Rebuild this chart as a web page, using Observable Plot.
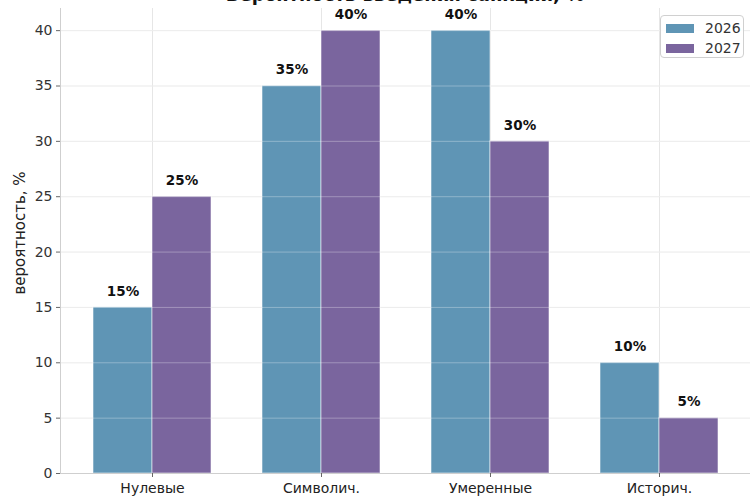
<!DOCTYPE html>
<html>
<head>
<meta charset="utf-8">
<script src="https://cdn.jsdelivr.net/npm/d3@7"></script>
<script src="https://cdn.jsdelivr.net/npm/@observablehq/plot@0.6"></script>
<style>
  html, body { margin: 0; padding: 0; background: white; overflow: hidden; }
  #wrap { position: relative; width: 750px; height: 500px; font-family: "DejaVu Sans", sans-serif; }
  #title { position: absolute; left: 60px; width: 690px; top: -15px; text-align: center; font-size: 18px; line-height: 20px; font-weight: bold; color: #111; white-space: nowrap; }
  #legend { position: absolute; left: 660px; top: 15px; width: 84px; height: 43px; box-sizing: border-box; border: 1px solid #d0d0d0; border-radius: 4px; background: rgba(255,255,255,0.85); font-size: 14px; color: #333; }
  .row { position: absolute; left: 5px; height: 18px; display: flex; align-items: center; }
  .sw { width: 28px; height: 9px; margin-right: 11px; }
</style>
</head>
<body>
<div id="wrap">
  <div id="chart"></div>
  <div id="title"></div>
  <div id="legend"></div>
</div>
<script>
const categories = ["Нулевые", "Символич.", "Умеренные", "Историч."];
const years = ["2026", "2027"];
const values2026 = [15, 35, 40, 10];
const values2027 = [25, 40, 30, 5];
const yTicks = [0, 5, 10, 15, 20, 25, 30, 35, 40];
const colors = ["#5f95b5", "#7a659e"];
const titleText = "Вероятность введения санкций, %";
const yLabel = "вероятность, %";

const data = categories.flatMap((c, i) => [
  {category: c, year: years[0], value: values2026[i]},
  {category: c, year: years[1], value: values2027[i]}
]);

const W = 750, H = 500, ML = 60, MR = 0;
const xOpts = {type: "band", domain: categories, paddingInner: 0.3045, paddingOuter: 0.1856};
const half = Plot.scale({x: {...xOpts, range: [ML, W - MR]}}).bandwidth / 2;

const d26 = data.filter(d => d.year === years[0]);
const d27 = data.filter(d => d.year === years[1]);

const chart = Plot.plot({
  width: W,
  height: H,
  marginLeft: ML,
  marginRight: MR,
  marginTop: 8,
  marginBottom: 27,
  style: {fontFamily: "DejaVu Sans, sans-serif", fontSize: "14px", color: "#333", background: "white"},
  x: {...xOpts, label: null, axis: null},
  y: {domain: [0, 42], label: null},
  color: {domain: years, range: colors},
  marks: [
    Plot.gridY(yTicks, {stroke: "#e6e6e6", strokeOpacity: 1}),
    Plot.gridX({stroke: "#e6e6e6", strokeOpacity: 1}),
    Plot.barY(d26, {x: "category", y: "value", fill: "year", insetRight: half, stroke: "white", strokeOpacity: 0.55, strokeWidth: 1}),
    Plot.barY(d27, {x: "category", y: "value", fill: "year", insetLeft: half, stroke: "white", strokeOpacity: 0.55, strokeWidth: 1}),
    Plot.gridY(yTicks, {stroke: "#ffffff", strokeOpacity: 0.3}),
    Plot.text(d26, {x: "category", y: "value", text: d => d.value + "%", dx: -half / 2, dy: -16, fontWeight: "bold", fontSize: 13.5, fill: "#111"}),
    Plot.text(d27, {x: "category", y: "value", text: d => d.value + "%", dx: half / 2, dy: -16, fontWeight: "bold", fontSize: 13.5, fill: "#111"}),
    Plot.ruleY([0], {stroke: "#cfcfcf", strokeWidth: 1.2}),
    Plot.axisY(yTicks, {tickSize: 4, tickPadding: 4, stroke: "#666", fill: "#333", fontSize: 14, label: null}),
    Plot.text([yLabel], {frameAnchor: "left", dx: -40, dy: -8, rotate: -90, fontSize: 15, fill: "#222", textAnchor: "middle"}),
    Plot.axisX({anchor: "bottom", tickSize: 4, tickPadding: 6, stroke: "#666", fill: "#222", fontSize: 14, label: null}),
    Plot.frame({anchor: "left", stroke: "#cfcfcf"})
  ]
});
document.getElementById("chart").appendChild(chart);

document.getElementById("title").textContent = titleText;
const legend = document.getElementById("legend");
years.forEach((y, i) => {
  const row = document.createElement("div");
  row.className = "row";
  row.style.top = (3 + i * 20) + "px";
  const sw = document.createElement("div");
  sw.className = "sw";
  sw.style.background = colors[i];
  const t = document.createElement("span");
  t.textContent = y;
  row.appendChild(sw);
  row.appendChild(t);
  legend.appendChild(row);
});
</script>
</body>
</html>
